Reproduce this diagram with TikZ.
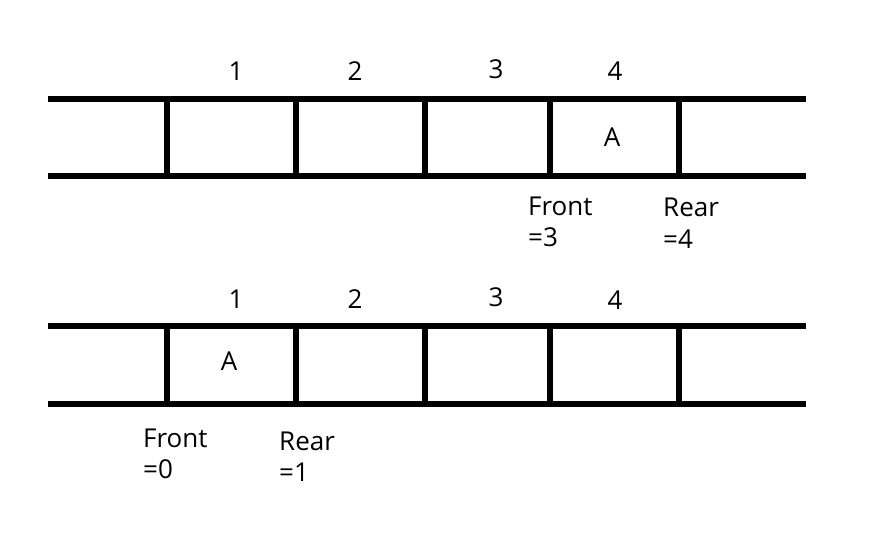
\documentclass[tikz,border=0pt]{standalone}
\usepackage{fontspec}
\setmainfont{Open Sans}
\begin{document}
\begin{tikzpicture}[x=1pt,y=-1pt,
  bar/.style={line width=6pt,black},
  lbl/.style={inner sep=0pt,font=\fontsize{26}{31}\selectfont},
  num/.style={lbl,anchor=base},
  tag/.style={lbl,anchor=base west}]
\useasboundingbox (0,0) rectangle (878,556);
% top queue
\draw[bar] (48,99) -- (806,99);
\draw[bar] (48,176) -- (806,176);
\foreach \x in {167,296,425,550,679} \draw[bar] (\x,99) -- (\x,176);
\node[num] (t1) at (236,81) {1};
\node[num] (t2) at (355,81) {2};
\node[num] (t3) at (496,79) {3};
\node[num] (t4) at (615,81) {4};
\node[num] (tA) at (612,147) {A};
\node[tag] (tf) at (528,216) {Front};
\node[tag] (tf2) at (528,247) {=3};
\node[tag] (tr) at (663,217) {Rear};
\node[tag] (tr2) at (663,248) {=4};
% bottom queue
\draw[bar] (48,325.5) -- (806,325.5);
\draw[bar] (48,403.5) -- (806,403.5);
\foreach \x in {167,296,425,550,679} \draw[bar] (\x,325.5) -- (\x,403.5);
\node[num] (b1) at (236,308) {1};
\node[num] (b2) at (355,308) {2};
\node[num] (b3) at (496,306) {3};
\node[num] (b4) at (615,309) {4};
\node[num] (bA) at (229,370) {A};
\node[tag] (bf) at (143,447) {Front};
\node[tag] (bf2) at (143,478) {=0};
\node[tag] (br) at (279,450) {Rear};
\node[tag] (br2) at (279,481) {=1};
\end{tikzpicture}
\end{document}
